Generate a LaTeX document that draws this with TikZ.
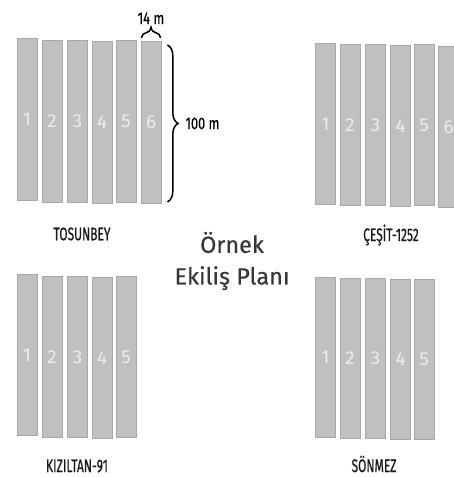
\documentclass[tikz,border=0pt]{standalone}
\usepackage{fontspec}
\setmainfont{Fira Sans}
\newfontfamily\condfont[FakeStretch=0.66,FakeBold=0.6]{Fira Sans}
\newfontfamily\measfont[FakeStretch=0.75,FakeBold=0.3]{Fira Sans}
\newfontfamily\titlefont[FakeBold=0.4]{Fira Sans}
\usetikzlibrary{positioning,decorations.pathreplacing}
\definecolor{stripfill}{RGB}{192,192,192}
\definecolor{stripline}{RGB}{168,168,168}
\definecolor{digitcol}{RGB}{236,236,236}
\definecolor{titlecol}{RGB}{55,55,55}
\tikzset{
  strip/.style={draw=stripline, fill=stripfill, line width=0.8pt, anchor=north,
    minimum width=0.6cm, inner sep=0pt, text=digitcol,
    font=\fontsize{16}{16}\selectfont},
  variety/.style={text=black!90, inner sep=0.5pt, font=\condfont\fontsize{15.5}{16}\selectfont},
  measure/.style={text=black, font=\measfont\fontsize{14.5}{15}\selectfont},
  bracket/.style={decorate, decoration={brace, amplitude=0.32cm}, line width=1.3pt}
}

\begin{document}
\begin{tikzpicture}[x=0.03cm, y=-0.03cm]
    \useasboundingbox (0,0) rectangle (454,477);
    \clip (0,0) rectangle (454,477);
    % TOSUNBEY
    \foreach \n/\x/\y in {1/27/38, 2/52/40, 3/77.5/40, 4/102/41, 5/126/40, 6/151/41}
      \node[strip, minimum height=4.86cm] (tos\n) at (\x,\y) {\n};
    \node[variety] (tosname) at (82,234) {TOSUNBEY};
    \draw[bracket] ([xshift=0.03cm,yshift=0.09cm]tos6.north west) -- node[measure, above=0.28cm] (width) {14 m}
      ([xshift=-0.03cm,yshift=0.09cm]tos6.north east);
    \draw[bracket] ([xshift=0.18cm,yshift=-0.12cm]tos6.north east) -- node[measure, right=0.4cm] (length) {100 m}
      ([xshift=0.18cm,yshift=0.06cm]tos6.south east);
    % CESIT-1252
    \foreach \n/\x/\y in {1/325.5/43, 2/350/44, 3/375.5/44, 4/400.5/45, 5/424/44, 6/448.5/46}
      \node[strip, minimum height=4.83cm] (ces\n) at (\x,\y) {\n};
    \node[variety] (cesname) at (391,235) {ÇEŞİT-1252};
    % KIZILTAN-91
    \foreach \n/\x/\y in {1/27/274, 2/52/276, 3/77.5/276, 4/102/277, 5/126/276}
      \node[strip, minimum height=4.83cm] (kiz\n) at (\x,\y) {\n};
    \node[variety] (kizname) at (77,466) {KIZILTAN-91};
    % SONMEZ
    \foreach \n/\x/\y in {1/325.5/277, 2/350/278, 3/375.5/278, 4/400.5/279, 5/424/279}
      \node[strip, minimum height=4.8cm] (son\n) at (\x,\y) {\n};
    \node[variety] (sonname) at (374,464) {SÖNMEZ};
    % title
    \node[text=titlecol, align=center, font=\titlefont\fontsize{20}{27}\selectfont] (title) at (232,261)
      {Örnek\\Ekiliş Planı};
\end{tikzpicture}
\end{document}
